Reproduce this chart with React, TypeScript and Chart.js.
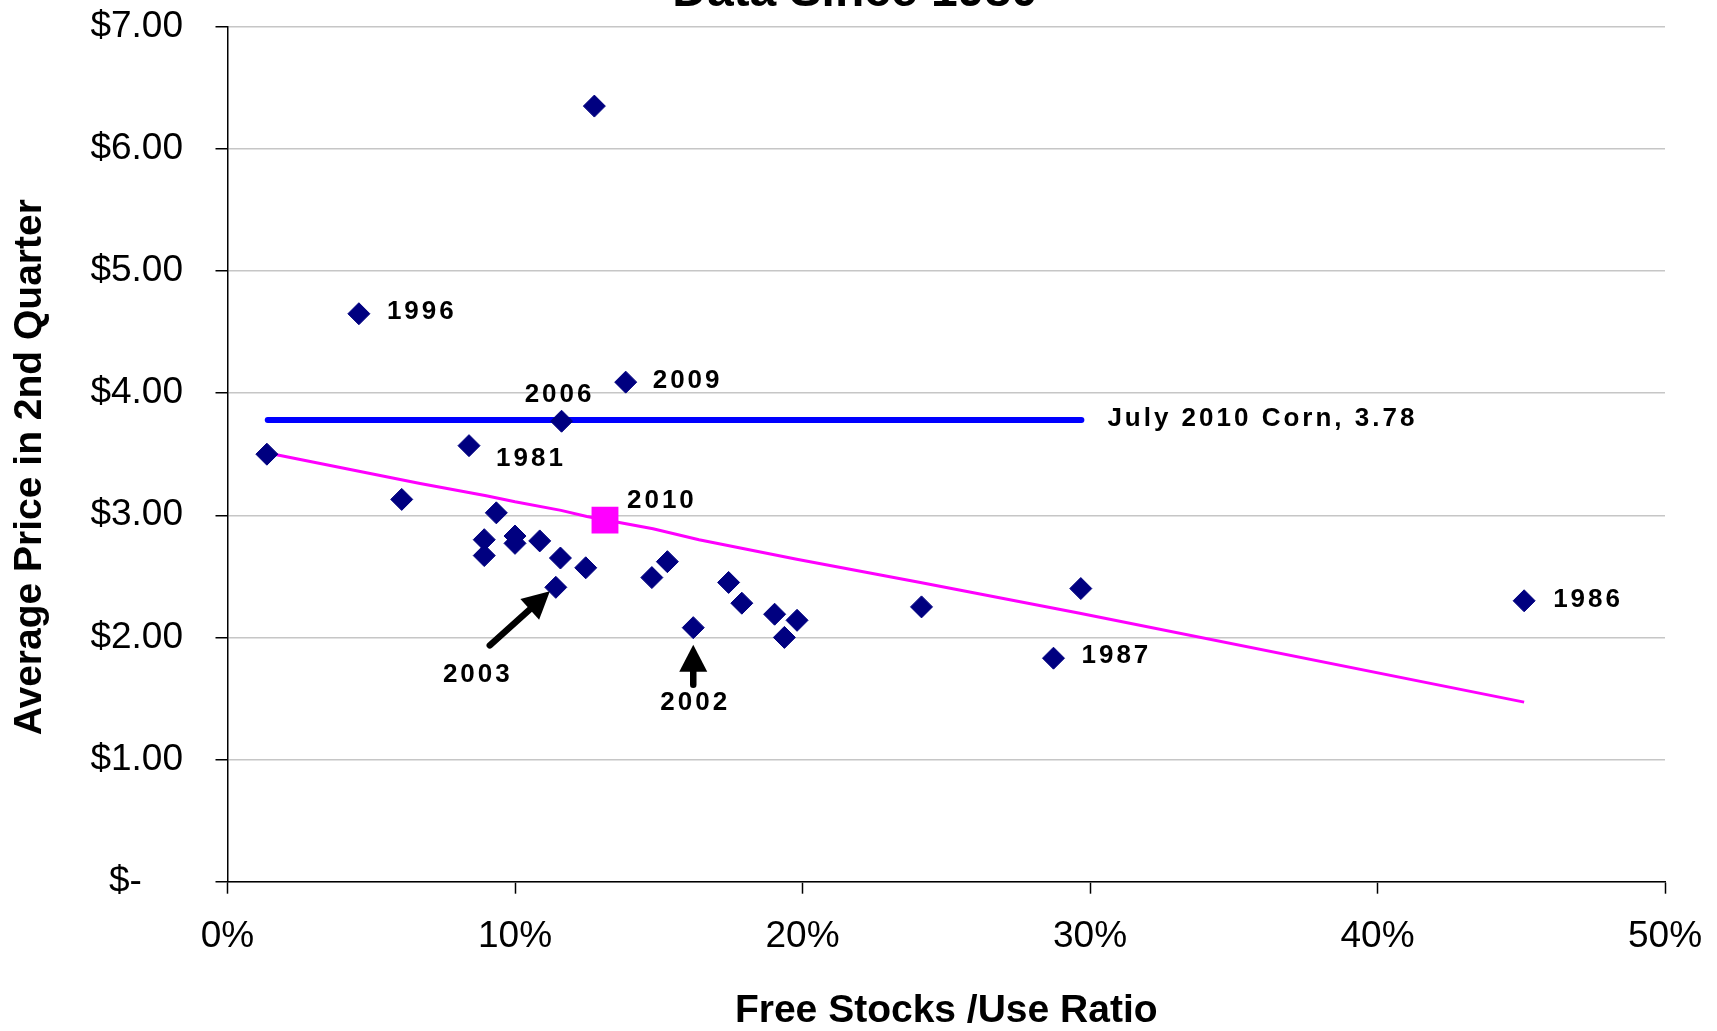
import React, { useEffect, useRef } from 'react';
import { Chart, registerables } from 'chart.js';

Chart.register(...registerables);

// ---- data ----
const chartTitle = 'Data Since 1980';
const xAxisTitle = 'Free Stocks /Use Ratio';
const yAxisTitle = 'Average Price in 2nd Quarter';

// free stocks / use ratio (%) of each historical year
const stocksUse = [
  1.37, 4.57, 6.06, 8.40, 8.93, 8.93, 9.35, 10.0, 10.0, 10.86,
  11.58, 11.42, 11.62, 12.46, 12.76, 13.85, 14.76, 15.30, 16.20, 17.43,
  17.89, 19.03, 19.37, 19.81, 24.14, 28.73, 29.68, 45.10,
];
// average 2nd-quarter price ($/bu)
const avgPrice = [
  3.50, 4.65, 3.13, 3.57, 2.80, 2.67, 3.02, 2.83, 2.77, 2.79,
  2.65, 2.41, 3.77, 2.57, 6.35, 4.09, 2.49, 2.62, 2.08, 2.45,
  2.28, 2.19, 2.00, 2.14, 2.25, 1.83, 2.40, 2.30,
];
// year labels shown next to some points ('' = unlabeled)
const pointYears = [
  '', '1996', '', '1981', '', '', '', '', '', '',
  '', '2003', '2006', '', '', '2009', '', '', '2002', '',
  '', '', '', '', '', '1987', '', '1986',
];

// 2010 estimate
const year2010 = '2010';
const stocksUse2010 = 13.13;
const price2010 = 2.96;

// July 2010 corn futures reference line
const julyCorn = 3.78;
const julyCornX = [1.4, 29.7];

// fitted trend line
const trendX = [1.4, 6.7, 9.0, 10.0, 11.6, 12.5, 14.8, 16.4, 19.8, 24.1, 29.6, 45.1];
const trendY = [3.51, 3.26, 3.16, 3.11, 3.04, 2.99, 2.89, 2.80, 2.64, 2.45, 2.20, 1.47];

const xTicks = [0, 10, 20, 30, 40, 50];
const yTicks = [0, 1, 2, 3, 4, 5, 6, 7];

const FONT = '"Liberation Sans", Arial, sans-serif';

// label placement (style only)
const labelPlace: Record<string, { align: CanvasTextAlign; dx: number; dy: number }> = {
  '1996': { align: 'left', dx: 28, dy: -1.5 },
  '1981': { align: 'left', dx: 27, dy: 13 },
  '2006': { align: 'center', dx: -2, dy: -26 },
  '2009': { align: 'left', dx: 27, dy: -1 },
  '2010': { align: 'left', dx: 22, dy: -19 },
  '2003': { align: 'center', dx: -78, dy: 87 },
  '2002': { align: 'center', dx: 2, dy: 75 },
  '1987': { align: 'left', dx: 28, dy: -2 },
  '1986': { align: 'left', dx: 29, dy: -1 },
};
const arrows: Record<string, { tail: [number, number]; tip: [number, number] }> = {
  '2003': { tail: [-66, 58], tip: [-6, 4] },
  '2002': { tail: [0, 57], tip: [0, 17] },
};

function drawArrow(ctx: CanvasRenderingContext2D, x0: number, y0: number, x1: number, y1: number) {
  const ang = Math.atan2(y1 - y0, x1 - x0);
  const headLen = 27;
  const halfW = 14;
  const bx = x1 - Math.cos(ang) * headLen;
  const by = y1 - Math.sin(ang) * headLen;
  ctx.beginPath();
  ctx.lineWidth = 6.5;
  ctx.lineCap = 'round';
  ctx.strokeStyle = '#000';
  ctx.moveTo(x0, y0);
  ctx.lineTo(bx + Math.cos(ang) * 2, by + Math.sin(ang) * 2);
  ctx.stroke();
  ctx.beginPath();
  ctx.fillStyle = '#000';
  ctx.moveTo(x1, y1);
  ctx.lineTo(bx + Math.sin(ang) * halfW, by - Math.cos(ang) * halfW);
  ctx.lineTo(bx - Math.sin(ang) * halfW, by + Math.cos(ang) * halfW);
  ctx.closePath();
  ctx.fill();
}

const annotationPlugin = {
  id: 'annotations',
  afterDatasetsDraw(chart: any) {
    const { ctx, chartArea } = chart;
    const xs = chart.scales.x;
    const ys = chart.scales.y;
    ctx.save();
    ctx.fillStyle = '#000';
    ctx.font = `bold 26px ${FONT}`;
    (ctx as any).letterSpacing = '3px';
    ctx.textBaseline = 'middle';

    const put = (year: string, vx: number, vy: number) => {
      const p = labelPlace[year];
      if (!p) return;
      const px = xs.getPixelForValue(vx);
      const py = ys.getPixelForValue(vy);
      ctx.textAlign = p.align;
      ctx.fillStyle = '#000';
      ctx.fillText(year, px + p.dx, py + p.dy);
      const a = arrows[year];
      if (a) drawArrow(ctx, px + a.tail[0], py + a.tail[1], px + a.tip[0], py + a.tip[1]);
    };
    pointYears.forEach((yr, i) => {
      if (yr) put(yr, stocksUse[i], avgPrice[i]);
    });
    put(year2010, stocksUse2010, price2010);

    // reference line label
    ctx.textAlign = 'left';
    ctx.fillStyle = '#000';
    ctx.fillText(
      `July 2010 Corn, ${julyCorn}`,
      xs.getPixelForValue(julyCornX[1]) + 26,
      ys.getPixelForValue(julyCorn) - 1
    );

    // y axis title
    (ctx as any).letterSpacing = '0px';
    ctx.save();
    ctx.font = `bold 39px ${FONT}`;
    ctx.textAlign = 'center';
    ctx.textBaseline = 'middle';
    ctx.translate(30.7, (chartArea.top + chartArea.bottom) / 2 + 13);
    ctx.rotate(-Math.PI / 2);
    ctx.fillText(yAxisTitle, 0, 0);
    ctx.restore();

    // chart title (cut off at the top, as in the source)
    ctx.font = `bold 48px ${FONT}`;
    ctx.textAlign = 'center';
    ctx.textBaseline = 'alphabetic';
    ctx.fillText(chartTitle, 855, 5.5);
    ctx.restore();
  },
};

const noOverhang = (s: any) => {
  s.paddingTop = 0;
  s.paddingBottom = 0;
  s.paddingLeft = 0;
  s.paddingRight = 0;
};

export default function App() {
  const ref = useRef<HTMLCanvasElement>(null);

  useEffect(() => {
    if (!ref.current) return;
    const chart = new Chart(ref.current, {
      type: 'scatter',
      data: {
        datasets: [
          {
            label: 'Years',
            data: stocksUse.map((x, i) => ({ x, y: avgPrice[i] })),
            pointStyle: 'rectRot',
            pointRadius: 11,
            backgroundColor: '#000080',
            borderColor: '#000080',
            borderWidth: 1,
          },
          {
            label: year2010,
            data: [{ x: stocksUse2010, y: price2010 }],
            pointStyle: 'rect',
            pointRadius: 19,
            backgroundColor: '#ff00ff',
            borderColor: '#ff00ff',
            borderWidth: 0,
          },
          {
            label: 'July 2010 Corn',
            data: julyCornX.map((x) => ({ x, y: julyCorn })),
            showLine: true,
            borderColor: '#0000ff',
            backgroundColor: '#0000ff',
            borderWidth: 6,
            borderCapStyle: 'round',
            pointRadius: 0,
          },
          {
            label: 'Trend',
            data: trendX.map((x, i) => ({ x, y: trendY[i] })),
            showLine: true,
            borderColor: '#ff00ff',
            backgroundColor: '#ff00ff',
            borderWidth: 3,
            pointRadius: 0,
            tension: 0,
          },
        ],
      },
      options: {
        responsive: false,
        animation: false,
        devicePixelRatio: 1,
        layout: { padding: { top: 26.7, right: 52, bottom: 0, left: 0 }, autoPadding: false },
        plugins: {
          legend: { display: false },
          tooltip: { enabled: false },
        },
        scales: {
          x: {
            type: 'linear',
            min: xTicks[0],
            max: xTicks[xTicks.length - 1],
            afterBuildTicks: (s: any) => {
              s.ticks = xTicks.map((v) => ({ value: v }));
            },
            afterFit: (s: any) => {
              s.height = 149.3;
              noOverhang(s);
            },
            ticks: {
              padding: 21,
              color: '#000',
              font: { family: FONT, size: 37 },
              callback: (v: any) => `${v}%`,
              maxRotation: 0,
            },
            grid: {
              drawOnChartArea: false,
              drawTicks: true,
              tickLength: 12,
              tickColor: '#000',
              tickWidth: 1.5,
            },
            border: { display: true, color: '#000', width: 1.5, z: 1 },
            title: {
              display: true,
              text: xAxisTitle,
              color: '#000',
              font: { family: FONT, size: 39, weight: 'bold', lineHeight: 1 },
              padding: { top: 0, bottom: 0 },
            },
          },
          y: {
            type: 'linear',
            min: yTicks[0],
            max: yTicks[yTicks.length - 1],
            afterBuildTicks: (s: any) => {
              s.ticks = yTicks.map((v) => ({ value: v }));
            },
            afterFit: (s: any) => {
              s.width = 227.5;
              noOverhang(s);
            },
            ticks: {
              padding: 32.5,
              color: '#000',
              font: { family: FONT, size: 37 },
              callback: (v: any) => (v === 0 ? '$-    ' : `$${Number(v).toFixed(2)}`),
            },
            grid: {
              color: '#c6c6c6',
              lineWidth: 1.5,
              tickLength: 12,
              tickColor: '#000',
              tickWidth: 1.5,
            },
            border: { display: true, color: '#000', width: 1.5, z: 1 },
            title: { display: false, text: yAxisTitle },
          },
        },
      },
      plugins: [annotationPlugin],
    } as any);
    return () => chart.destroy();
  }, []);

  return (
    <div style={{ position: 'fixed', left: 0, top: 0, width: 1717, height: 1031, background: '#fff' }}>
      <canvas ref={ref} width={1717} height={1031} style={{ display: 'block' }} />
    </div>
  );
}
